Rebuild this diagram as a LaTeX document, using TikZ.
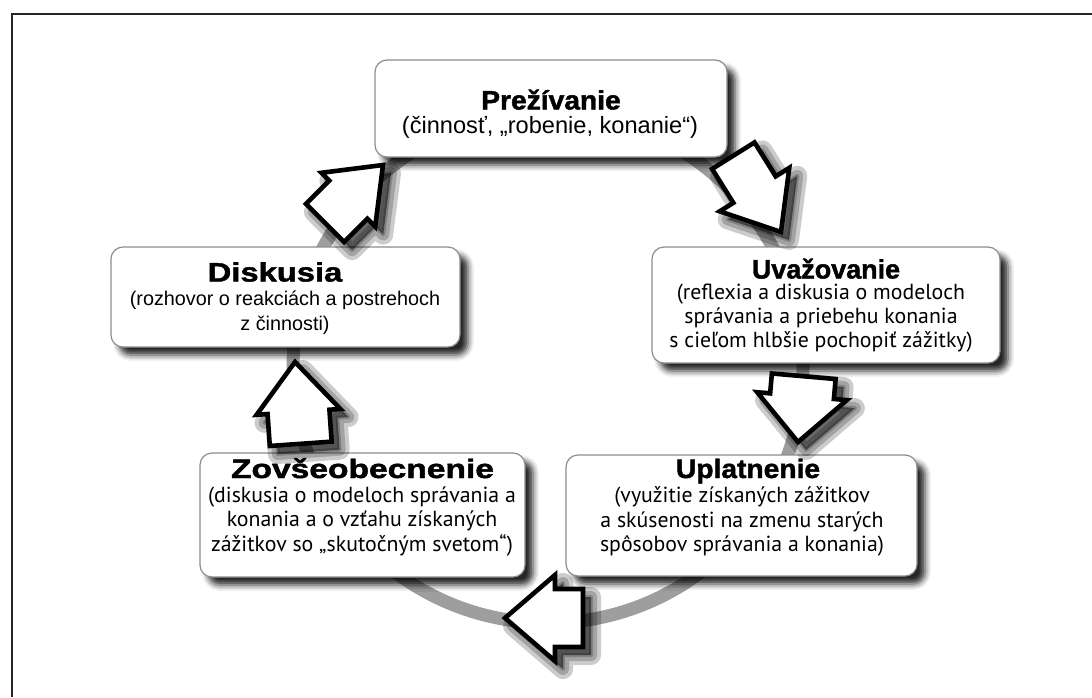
\documentclass[tikz,border=0pt]{standalone}
\usepackage{fontspec}
\setmainfont{Liberation Sans}
\newfontfamily\ttlfont{Liberation Sans}[BoldFeatures={FakeBold=1.6,FakeStretch=1.06}]
\newfontfamily\arialf{Liberation Sans}
\newfontfamily\myriadf{PT Sans}
\usetikzlibrary{shadows.blur}
\tikzset{
  frameline/.style={line width=1pt, draw=black!85},
  ringline/.style={draw=black!38, line width=6.5pt},
  boxstyle/.style={draw=black!45, line width=0.6pt, fill=white, rounded corners=6pt,
    blur shadow={shadow xshift=4pt, shadow yshift=-4pt, shadow blur radius=3pt, shadow opacity=85}},
  arrline/.style={draw=black, line width=2.3pt, fill=white, miter limit=12},
  arrshadow/.style={draw=black, fill=black, line width=#1, opacity=0.2, line join=round},
  ttlstyle/.style={anchor=base, font=\ttlfont\bfseries\fontsize{13.3}{15}\selectfont},
  bodyA/.style={align=center, font=\arialf\fontsize{9.9}{12.4}\selectfont},
  bodyP/.style={align=center, font=\arialf\fontsize{11.8}{14}\selectfont},
  bodyM/.style={align=center, font=\myriadf\fontsize{10.9}{12.1}\selectfont},
  pics/barrow/.style n args={4}{code={
    \path[arrline] (0,0) -- (-#2,#3) -- (-#2,#4) -- (-#1,#4) -- (-#1,-#4) -- (-#2,-#4) -- (-#2,-#3) -- cycle;
  }},
  pics/barrowsh/.style n args={4}{code={
    \path[arrshadow=10pt] (0,0) -- (-#2,#3) -- (-#2,#4) -- (-#1,#4) -- (-#1,-#4) -- (-#2,-#4) -- (-#2,-#3) -- cycle;
    \path[arrshadow=6pt] (0,0) -- (-#2,#3) -- (-#2,#4) -- (-#1,#4) -- (-#1,-#4) -- (-#2,-#4) -- (-#2,-#3) -- cycle;
    \path[arrshadow=2pt] (0,0) -- (-#2,#3) -- (-#2,#4) -- (-#1,#4) -- (-#1,-#4) -- (-#2,-#4) -- (-#2,-#3) -- cycle;
  }},
}
\begin{document}
\begin{tikzpicture}[x=0.5pt,y=-0.5pt]
\useasboundingbox (0,0) rectangle (1092,697);
% frame
\coordinate (fr1) at (1092,14);
\coordinate (fr2) at (12,14);
\coordinate (fr3) at (12,697);
\draw[frameline] (fr1) -- (fr2) -- (fr3);
% ring
\coordinate (rc) at (548,368);
\draw[ringline] (rc) circle[radius=255];
% boxes
\node[boxstyle, minimum width=176pt, minimum height=48.5pt] (P) at (551,108.5) {};
\node[boxstyle, minimum width=174.5pt, minimum height=50pt] (D) at (285.5,297) {};
\node[boxstyle, minimum width=174pt, minimum height=58pt] (U) at (826,305) {};
\node[boxstyle, minimum width=162.5pt, minimum height=62pt] (Z) at (362.5,515) {};
\node[boxstyle, minimum width=175.5pt, minimum height=60.5pt] (Up) at (741.5,515.5) {};
% titles
\node[ttlstyle] (Pt) at (551,109.5) {Prežívanie};
\node[ttlstyle] (Dt) at (275,281.5) {\scalebox{1.16}[1]{Diskusia}};
\node[ttlstyle] (Ut) at (826,278.5) {\scalebox{0.955}[1]{Uvažovanie}};
\node[ttlstyle] (Zt) at (362.5,478) {\scalebox{1.19}[1]{Zovšeobecnenie}};
\node[ttlstyle] (Upt) at (748,478) {Uplatnenie};
% bodies
\node[bodyP] (Pb) at (550,127) {(činnosť, „robenie, konanie“)};
\node[bodyA] (Db) at (285,312.5) {(rozhovor o reakciách a postrehoch\\z činnosti)};
\node[bodyM] (Ub) at (821,318) {(reflexia a diskusia o modeloch\\správania a priebehu konania\\s cieľom hlbšie pochopiť zážitky)};
\node[bodyM] (Zb) at (362,521.5) {(diskusia o modeloch správania a\\konania a o vzťahu získaných\\zážitkov so „skutočným svetom“)};
\node[bodyM] (Upb) at (742,521.5) {(využitie získaných zážitkov\\a skúsenosti na zmenu starých\\spôsobov správania a konania)};
% block arrows: shadows
\pic[rotate=-58] at (789,240) {barrowsh={90}{50}{41}{25}};
\pic[rotate=-95] at (806,450) {barrowsh={66}{46}{45}{32}};
\pic[rotate=180] at (513,626) {barrowsh={78}{50}{43}{29}};
\pic[rotate=94] at (303,370) {barrowsh={82}{50}{42}{31}};
\pic[rotate=45] at (391,173) {barrowsh={82}{49}{38}{27}};
% block arrows
\pic[rotate=-58] at (781,232) {barrow={90}{50}{41}{25}};
\pic[rotate=-95] at (798,442) {barrow={66}{46}{45}{32}};
\pic[rotate=180] at (505,618) {barrow={78}{50}{43}{29}};
\pic[rotate=94] at (295,362) {barrow={82}{50}{42}{31}};
\pic[rotate=45] at (383,165) {barrow={82}{49}{38}{27}};
\end{tikzpicture}
\end{document}
